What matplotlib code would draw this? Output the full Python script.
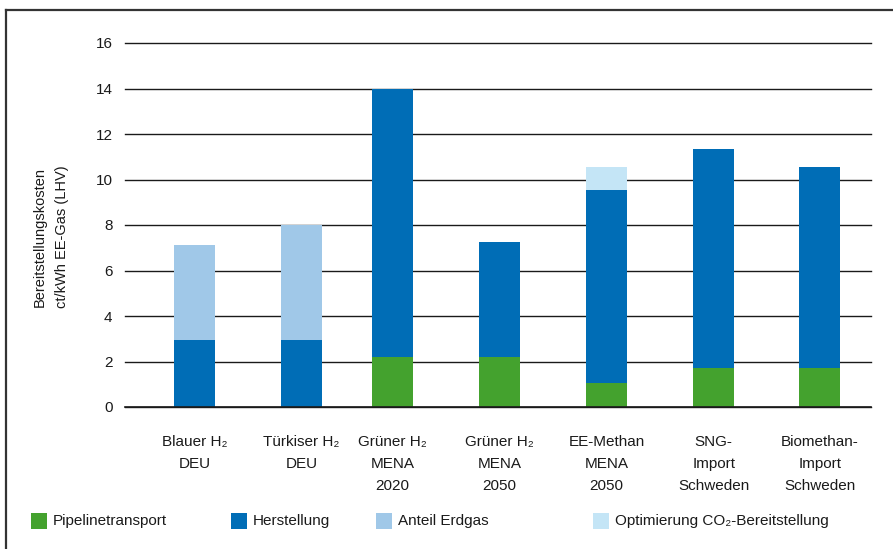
import matplotlib
matplotlib.use("Agg")
import matplotlib.pyplot as plt
from matplotlib.patches import Rectangle
from matplotlib.lines import Line2D

plt.rcParams["font.family"] = ["Liberation Sans", "DejaVu Sans"]

# --- data ---
categories = [
    "Blauer H₂\nDEU",
    "Türkiser H₂\nDEU",
    "Grüner H₂\nMENA\n2020",
    "Grüner H₂\nMENA\n2050",
    "EE-Methan\nMENA\n2050",
    "SNG-\nImport\nSchweden",
    "Biomethan-\nImport\nSchweden",
]
pipelinetransport = [0.0, 0.0, 2.2, 2.2, 1.05, 1.7, 1.7]
herstellung = [2.95, 2.95, 11.8, 5.05, 8.5, 9.65, 8.85]
anteil_erdgas = [4.15, 5.05, 0.0, 0.0, 0.0, 0.0, 0.0]
optimierung_co2 = [0.0, 0.0, 0.0, 0.0, 1.0, 0.0, 0.0]

series_names = ["Pipelinetransport", "Herstellung", "Anteil Erdgas",
                "Optimierung CO₂-Bereitstellung"]
series_colors = ["#44a22e", "#006db6", "#a0c8e8", "#c4e5f6"]

# slightly irregular spacing as in the original layout
x_pos = [0, 1, 1.85, 2.85, 3.85, 4.85, 5.84]
yticks = [0, 2, 4, 6, 8, 10, 12, 14, 16]

W, H = 893, 549
fig = plt.figure(figsize=(W / 100, H / 100), dpi=100)
fig.patch.set_facecolor("white")

# outer frame (left and top lines)
fig.add_artist(Line2D([6 / W, 6 / W], [0, 1 - 10 / H], color="#333333", lw=1.6))
fig.add_artist(Line2D([6 / W, 1], [1 - 10 / H, 1 - 10 / H], color="#333333", lw=1.6))

ax = fig.add_axes([125 / W, 1 - 407 / H, 746 / W, 364 / H])

for y in yticks:
    ax.axhline(y, color="#1a1a1a", lw=1.0, zorder=1, clip_on=False)

bottom = [0.0] * len(categories)
for vals, col in zip([pipelinetransport, herstellung, anteil_erdgas, optimierung_co2],
                     series_colors):
    ax.bar(x_pos, vals, bottom=bottom, width=0.383, color=col, zorder=2, linewidth=0)
    bottom = [b + v for b, v in zip(bottom, vals)]
ax.axhline(0, color="#1a1a1a", lw=1.2, zorder=3, clip_on=False)

ax.set_xlim(-0.65, 6.32)
ax.set_ylim(0, 16)
ax.set_yticks(yticks)
ax.set_xticks(x_pos)
ax.set_xticklabels(categories, fontsize=11, va="top")
ax.tick_params(axis="both", length=0, labelsize=11, colors="#1a1a1a")
ax.tick_params(axis="y", pad=9)
ax.tick_params(axis="x", pad=20)
for t in ax.get_xticklabels():
    t.set_linespacing(1.75)
for s in ax.spines.values():
    s.set_visible(False)

fig.text(51 / W, 1 - 237 / H, "Bereitstellungskosten\nct/kWh EE-Gas (LHV)",
         rotation=90, ha="center", va="center", fontsize=10.5,
         multialignment="center", linespacing=1.8, color="#1a1a1a")

# legend entries placed as in the original
leg_x = [31, 231, 376, 593]
for name, col, lx in zip(series_names, series_colors, leg_x):
    fig.add_artist(Rectangle((lx / W, 1 - 529 / H), 16 / W, 16 / H,
                             transform=fig.transFigure, facecolor=col, edgecolor="none"))
    fig.text((lx + 22) / W, 1 - 521 / H, name, ha="left", va="center",
             fontsize=11, color="#1a1a1a")

fig.savefig("out.png", dpi=100)
